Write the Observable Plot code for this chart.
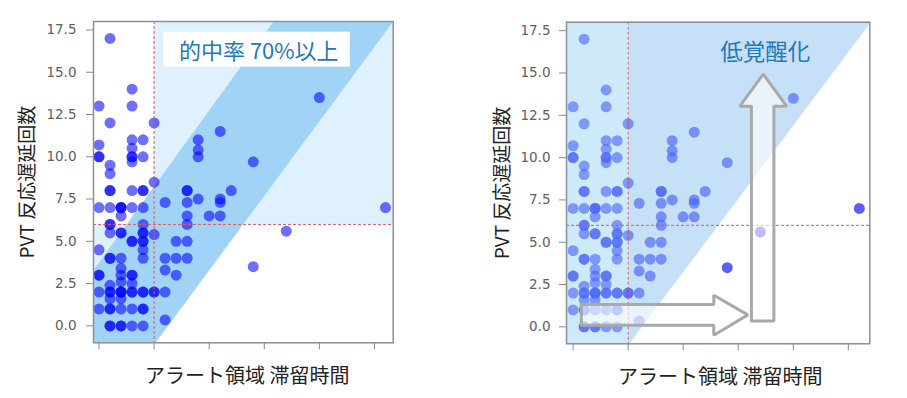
<!DOCTYPE html>
<html><head><meta charset="utf-8">
<script src="https://cdn.jsdelivr.net/npm/d3@7"></script>
<script src="https://cdn.jsdelivr.net/npm/@observablehq/plot@0.6"></script>
<style>
body{margin:0;background:#fff;width:907px;height:398px;position:relative;overflow:hidden}
#left{position:absolute;left:0;top:0}
#right{position:absolute;left:453px;top:0}
</style></head><body>
<div id="left"></div><div id="right"></div>
<script>
// dwell time in alert zone (x) and PVT lapses (y)
const dwell = [
  0,0,0,0,0,0,0,0,0,0,
  1,1,1,1,1,1,1,1,1,1,1,1,1,1,1,1,1,1,1,1,
  2,2,2,2,2,2,2,2,2,2,2,2,2,2,2,2,2,
  3,3,3,3,3,3,3,3,3,3,3,3,3,3,3,3,3,3,
  4,4,4,4,4,4,4,4,4,4,4,4,4,4,4,4,4,
  5,5,5,5,5,
  6,6,6,6,6,
  7,7,7,
  8,8,8,8,8,8,8,
  9,9,9,9,
  10,
  11,11,11,11,
  12,
  14,14,
  17,
  20,
  26
];
const pvt = [
  13,10.7,10,10,7,4.5,3,3,2,1,
  17,12,9.5,9,8,8,7,6,6,5.5,4,4,2.4,2,2,1.6,1,1,0,0,
  7,7,7,6.5,5.5,5.5,4,3.4,3,2.6,2,2,2,1.6,1,0,0,
  14,13,11,10.5,10,10,9.7,8,7,5,5,3,3,2.5,2,2,1,0,
  11,10,8,8,7,6,5.5,5.5,5,5,4.5,4,2,2,1,1,0,
  12,8.5,5.4,2,2,
  7.3,4,3.3,2,0.35,
  5,4,3,
  8,8,7.3,6.5,6,5,4,
  11,10.4,10,7.5,
  6.5,
  11.5,7.5,7.3,6.5,
  8,
  9.7,3.5,
  5.6,
  13.5,
  7
];
const points = dwell.map((d, i) => ({dwell: d, pvt: pvt[i]}));

const yTicks = [0, 2.5, 5, 7.5, 10, 12.5, 15, 17.5];
const xTicks = [0, 5, 10, 15, 20, 25];
const xThreshold = [5];
const yThreshold = [6];
const yLabel = "PVT 反応遅延回数";
const xLabel = "アラート領域 滞留時間";
const leftNote = ["的中率 70%以上"];
const leftNotePos = [[14.5, 16.2]];
const leftNoteBox = [[5.86, 22.8, 15.3, 17.37]];
const rightNote = ["低覚醒化"];
const rightNotePos = [[17.45, 16.2]];

// band (left) and diagonal (right) outlines in data units
const bandOutline = [[-1, -1], [5.14, -1], [26.75, 18.05], [15.9, 18.05], [-1, 2.85]];
const diagTriangle = [[5, -1], [5.1, -1], [27.1, 18.05], [5, 18.05]];
const hArrow = [[0.75,0.1],[12.78,0.1],[12.78,-0.49],[15.87,0.71],[12.78,1.87],[12.78,1.32],[0.75,1.32],[0.75,0.1]];
const vArrow = [[16.2,0.35],[18.24,0.35],[18.24,13.04],[19.39,13.04],[17.27,14.93],[15.15,13.04],[16.2,13.04],[16.2,0.35]];

const cjk = "'Noto Sans CJK JP', 'Noto Sans', sans-serif";
const noteColor = "#2079b8";
const dashColor = "#e05a5a";

function axes(pad) {
  return [
    Plot.axisY(yTicks, {tickFormat: d3.format(".1f"), tickSize: 7, tickPadding: pad, fontSize: 13.5, stroke: "#888", fill: "#606060", label: null, fontFamily: "'DejaVu Sans', sans-serif"}),
    Plot.axisX(xTicks, {tickFormat: () => "", tickSize: 7, stroke: "#888", label: null}),
    Plot.frame({stroke: "#8a8f96", strokeWidth: 1.5})
  ];
}

function labels(dxY, dxX) {
  return [
    Plot.text([yLabel], {frameAnchor: "left", dx: dxY, rotate: -90, textAnchor: "middle", lineAnchor: "middle", fontSize: 19, fontFamily: cjk, fill: "#222"}),
    Plot.text([xLabel], {frameAnchor: "bottom", dx: dxX, dy: 34, textAnchor: "middle", lineAnchor: "middle", fontSize: 20, fontFamily: cjk, fill: "#222"})
  ];
}

const leftX = [-0.5, 26.7];
const leftPlot = Plot.plot({
  width: 453, height: 398,
  marginLeft: 93, marginRight: 60.3, marginTop: 21, marginBottom: 55.7,
  x: {domain: leftX}, y: {domain: [-1, 18]},
  marks: [
    Plot.rect([0], {x1: leftX[0], x2: xThreshold[0], y1: -1, y2: yThreshold[0], fill: "#dff1fc"}),
    Plot.rect([0], {x1: xThreshold[0], x2: leftX[1], y1: yThreshold[0], y2: 18, fill: "#dff1fc"}),
    Plot.line(bandOutline, {x: d => d[0], y: d => d[1], fill: "#a0d3f5", stroke: "none", clip: "frame"}),
    Plot.rect(leftNoteBox, {x1: d => d[0], x2: d => d[1], y1: d => d[2], y2: d => d[3], fill: "white"}),
    Plot.dot(points, {x: "dwell", y: "pvt", r: 5.5, fill: "#0000ff", fillOpacity: 0.57, stroke: "none"}),
    Plot.ruleX(xThreshold, {stroke: dashColor, strokeDasharray: "3,2", strokeWidth: 1}),
    Plot.ruleY(yThreshold, {stroke: dashColor, strokeDasharray: "3,2", strokeWidth: 1}),
    Plot.text(leftNote, {x: () => leftNotePos[0][0], y: () => leftNotePos[0][1], fontSize: 22, fontFamily: cjk, fill: noteColor}),
    ...axes(10),
    ...labels(-66, 4)
  ]
});
document.getElementById("left").append(leftPlot);

const rightX = [-0.6, 26.95];
const rightPlot = Plot.plot({
  width: 454, height: 398,
  marginLeft: 113, marginRight: 37.7, marginTop: 21.7, marginBottom: 54.7,
  x: {domain: rightX}, y: {domain: [-1, 18]},
  marks: [
    Plot.dot(points, {x: "dwell", y: "pvt", r: 5.5, fill: "#0000ff", fillOpacity: 0.64, stroke: "none"}),
    Plot.rect([0], {x1: rightX[0], x2: xThreshold[0], y1: -1, y2: 18, fill: "#9bd3f5", fillOpacity: 0.5}),
    Plot.line(diagTriangle, {x: d => d[0], y: d => d[1], fill: "#8dc1f1", fillOpacity: 0.5, stroke: "none", clip: "frame"}),
    Plot.ruleX(xThreshold, {stroke: dashColor, strokeDasharray: "3,2", strokeWidth: 1}),
    Plot.ruleY(yThreshold, {stroke: dashColor, strokeDasharray: "3,2", strokeWidth: 1}),
    Plot.line(hArrow, {x: d => d[0], y: d => d[1], fill: "white", fillOpacity: 0.6, stroke: "#a9a9a9", strokeWidth: 3, strokeLinejoin: "miter"}),
    Plot.line(vArrow, {x: d => d[0], y: d => d[1], fill: "white", fillOpacity: 0.6, stroke: "#a9a9a9", strokeWidth: 3, strokeLinejoin: "miter"}),
    Plot.text(rightNote, {x: () => rightNotePos[0][0], y: () => rightNotePos[0][1], fontSize: 22.5, fontFamily: cjk, fill: noteColor}),
    ...axes(9),
    ...labels(-64, 2)
  ]
});
document.getElementById("right").append(rightPlot);
</script>
</body></html>
